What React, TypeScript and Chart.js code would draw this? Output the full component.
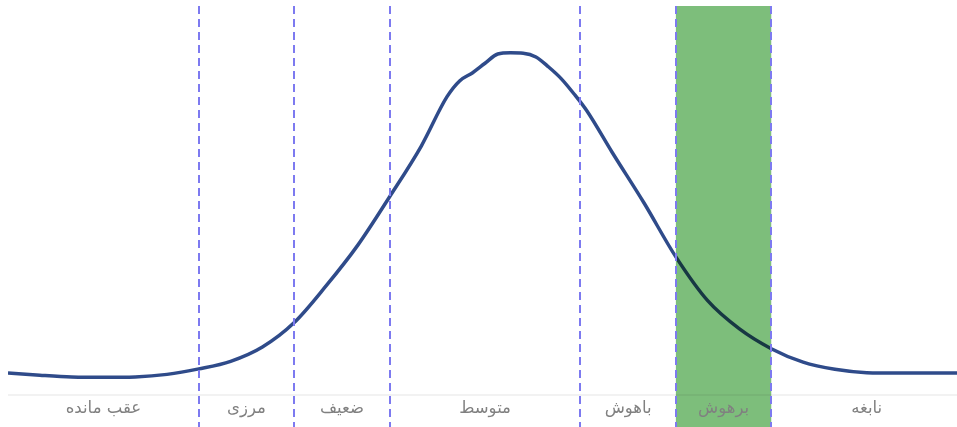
import React, { useEffect, useRef } from "react";
import { Chart, registerables } from "chart.js";

Chart.register(...registerables);

// IQ scores (x) and relative height of the curve (y, 0–100)
const curveX = [25, 30, 35, 40, 45, 50, 55, 60, 65, 70, 75, 80, 85, 90, 94, 96, 98, 100, 102, 104, 106, 108, 110, 112, 114, 116, 120, 125, 130, 135, 140, 145, 150, 155, 160, 165, 170, 174.2];
const curveY = [12.8, 12.3, 11.9, 11.8, 11.9, 12.5, 13.8, 15.6, 19.0, 24.8, 33.5, 43.2, 54.7, 66.8, 78.4, 82.2, 84.1, 86.4, 88.6, 88.9, 88.8, 87.9, 85.5, 82.7, 79.1, 75.1, 65.2, 53.2, 40.4, 30.0, 23.3, 18.6, 15.4, 13.7, 12.9, 12.8, 12.8, 12.8];

// Category boundaries (dashed lines)
const boundaries = [55, 70, 85, 115, 130, 145];
// Categories: label and [from, to]
const categoryLabels = ["عقب مانده", "مرزی", "ضعیف", "متوسط", "باهوش", "برهوش", "نابغه"];
const categoryFrom = [25, 55, 70, 85, 115, 130, 145];
const categoryTo = [55, 70, 85, 115, 130, 145, 175];
// Highlighted range
const highlightRange = [130, 145];

const X_MIN = 25;
const X_MAX = 174.2;

export default function App() {
  const ref = useRef<HTMLCanvasElement | null>(null);

  useEffect(() => {
    if (!ref.current) return;
    const decor = {
      id: "decor",
      beforeDatasetsDraw(chart: any) {
        const { ctx, chartArea } = chart;
        ctx.save();
        ctx.strokeStyle = "#f2f2f2";
        ctx.lineWidth = 2;
        ctx.beginPath();
        ctx.moveTo(chartArea.left, 395);
        ctx.lineTo(chartArea.right, 395);
        ctx.stroke();
        ctx.restore();
      },
      afterDatasetsDraw(chart: any) {
        const { ctx, chartArea, scales } = chart;
        const xs = scales.x;
        ctx.save();
        // highlight band
        const x1 = xs.getPixelForValue(highlightRange[0]);
        const x2 = xs.getPixelForValue(highlightRange[1]);
        ctx.globalCompositeOperation = "multiply";
        ctx.fillStyle = "#7dbe7b";
        ctx.fillRect(x1, chartArea.top, x2 - x1, chartArea.bottom - chartArea.top);
        ctx.globalCompositeOperation = "source-over";
        // labels
        ctx.font = "16.5px 'DejaVu Sans'";
        ctx.fillStyle = "#808080";
        ctx.textAlign = "center";
        ctx.textBaseline = "middle";
        ctx.direction = "rtl";
        categoryLabels.forEach((lab, i) => {
          const cx = xs.getPixelForValue((categoryFrom[i] + categoryTo[i]) / 2);
          ctx.fillText(lab, cx, 409);
        });
        // dashed boundaries
        ctx.direction = "ltr";
        ctx.strokeStyle = "#7d7af0";
        ctx.lineWidth = 2;
        ctx.setLineDash([8, 5]);
        boundaries.forEach((b) => {
          const px = Math.round(xs.getPixelForValue(b));
          ctx.beginPath();
          ctx.moveTo(px, chartArea.top);
          ctx.lineTo(px, chartArea.bottom);
          ctx.stroke();
        });
        ctx.restore();
      },
    };

    const chart = new Chart(ref.current, {
      type: "line",
      data: {
        datasets: [
          {
            data: curveX.map((x, i) => ({ x, y: curveY[i] })),
            borderColor: "#2f4b8a",
            borderWidth: 3.5,
            pointRadius: 0,
            cubicInterpolationMode: "monotone",
            fill: false,
          },
        ],
      },
      options: {
        animation: false,
        responsive: true,
        maintainAspectRatio: false,
        layout: { padding: { left: 8, right: 0, top: 6, bottom: 0 } },
        plugins: { legend: { display: false }, tooltip: { enabled: false } },
        scales: {
          x: { type: "linear", min: X_MIN, max: X_MAX, display: false },
          y: { type: "linear", min: 0, max: 100, display: false },
        },
      },
      plugins: [decor],
    });
    return () => chart.destroy();
  }, []);

  return (
    <div style={{ position: "absolute", left: 0, top: 0, width: 957, height: 427, background: "#fff" }}>
      <canvas ref={ref} />
    </div>
  );
}
